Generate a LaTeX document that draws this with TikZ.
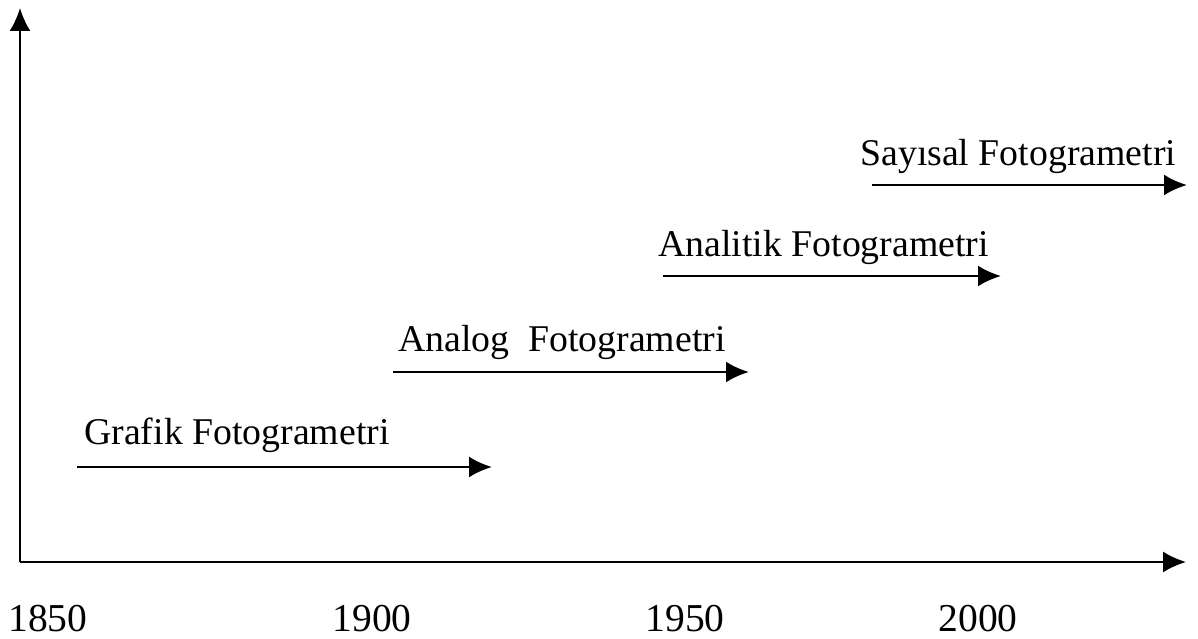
\documentclass[tikz,border=0pt]{standalone}
\usepackage{fontspec}
\setmainfont{Liberation Serif}
\usetikzlibrary{arrows.meta,positioning}

\begin{document}
\begin{tikzpicture}[x=0.02cm,y=-0.02cm,>={Latex[length=0.46cm,width=0.42cm]}]
  \tikzstyle{axis}=[line width=1.2pt,->]
  \tikzstyle{span}=[line width=1.5pt,->]
  \tikzstyle{lbl}=[anchor=base west,inner sep=0pt,font=\fontsize{21.5}{24}\selectfont]
  \tikzstyle{year}=[anchor=base,inner sep=0pt,font=\fontsize{22.5}{24}\selectfont]
  \useasboundingbox (0,0) rectangle (1198,639);
  % axes
  \coordinate (o) at (20,562);
  \coordinate (ytop) at (20,8);
  \coordinate (xend) at (1186,562);
  \draw[axis] (o) -- (ytop);
  \draw[axis] (o) -- (xend);
  % years
  \node[year] (y1850) at (48,631) {1850};
  \node[year] (y1900) at (372,631) {1900};
  \node[year] (y1950) at (685,631) {1950};
  \node[year] (y2000) at (978,631) {2000};
  % periods
  \coordinate (g1) at (77,467);   \coordinate (g2) at (492,467);
  \coordinate (a1) at (393,372);  \coordinate (a2) at (749,372);
  \coordinate (n1) at (663,276);  \coordinate (n2) at (1001,276);
  \coordinate (s1) at (872,185);  \coordinate (s2) at (1187,185);
  \draw[span] (g1) -- (g2);
  \draw[span] (a1) -- (a2);
  \draw[span] (n1) -- (n2);
  \draw[span] (s1) -- (s2);
  \node[lbl] (grafik) at (84,444) {Grafik Fotogrametri};
  \node[lbl] (analog) at (398,351) {Analog\ \ Fotogrametri};
  \node[lbl] (analitik) at (658,256) {Analitik Fotogrametri};
  \node[lbl] (sayisal) at (860,165) {Sayısal Fotogrametri};
\end{tikzpicture}
\end{document}
